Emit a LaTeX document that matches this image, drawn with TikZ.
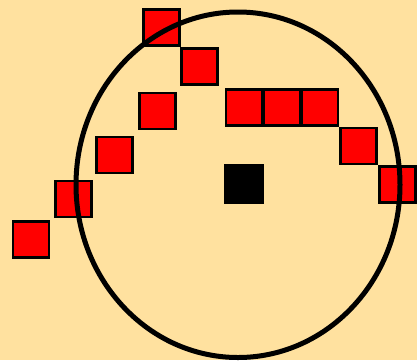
\documentclass[tikz,border=0pt]{standalone}
\definecolor{bg}{HTML}{FFE19F}
\tikzset{
  redsq/.style={draw=black, fill=red, line width=2.5pt, minimum size=36pt, inner sep=0pt, outer sep=0pt},
  blacksq/.style={fill=black, draw=none, minimum size=40pt, inner sep=0pt, outer sep=0pt}
}
\begin{document}
\begin{tikzpicture}[x=1pt,y=-1pt]
\fill[bg] (0,0) rectangle (417,360);
\useasboundingbox (0,0) rectangle (417,360);
\node[redsq] (s1) at (161.5,27.5) {};
\node[redsq] (s2) at (199.5,66.5) {};
\node[redsq] (s3) at (157.5,111) {};
\node[redsq] (s4) at (114.5,155) {};
\node[redsq] (s5) at (73.5,199) {};
\node[redsq] (s6) at (31,239.5) {};
\node[redsq] (s7) at (244,107.5) {};
\node[redsq] (s8) at (282,107.5) {};
\node[redsq] (s9) at (320,107.5) {};
\node[redsq] (s10) at (358.5,146) {};
\node[redsq] (s11) at (397.5,184.5) {};
\node[blacksq] (b) at (244,184) {};
\coordinate (c) at (238,184.75);
\draw[line width=5pt] (c) ellipse [x radius=162, y radius=172.75];
\end{tikzpicture}
\end{document}
